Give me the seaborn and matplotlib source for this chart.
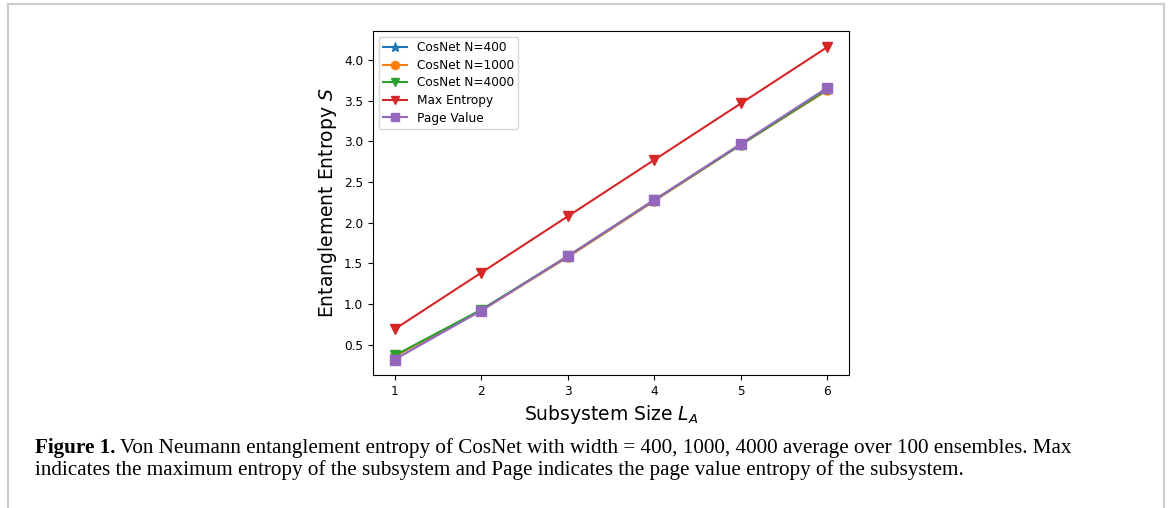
import matplotlib
matplotlib.use("Agg")
import matplotlib.pyplot as plt
from matplotlib.lines import Line2D
import seaborn as sns
import pandas as pd

subsystem_size = [1, 2, 3, 4, 5, 6]
cosnet_400 = [0.36, 0.93, 1.58, 2.27, 2.96, 3.63]
cosnet_1000 = [0.36, 0.92, 1.58, 2.27, 2.96, 3.63]
cosnet_4000 = [0.37, 0.93, 1.59, 2.28, 2.96, 3.64]
max_entropy = [0.693, 1.386, 2.079, 2.773, 3.466, 4.159]
page_value = [0.32, 0.92, 1.59, 2.28, 2.97, 3.66]

series_names = ["CosNet N=400", "CosNet N=1000", "CosNet N=4000", "Max Entropy", "Page Value"]
series_values = [cosnet_400, cosnet_1000, cosnet_4000, max_entropy, page_value]
markers = ["*", "o", "v", "v", "s"]
colors = ["#1f77b4", "#ff7f0e", "#2ca02c", "#d62728", "#9467bd"]

caption_bold = "Figure 1."
caption_line1 = " Von Neumann entanglement entropy of CosNet with width = 400, 1000, 4000 average over 100 ensembles. Max"
caption_line2 = "indicates the maximum entropy of the subsystem and Page indicates the page value entropy of the subsystem."

fig = plt.figure(figsize=(11.7, 5.08), dpi=100)
ax = fig.add_axes([373 / 1170, 1 - 375 / 508, (849 - 373) / 1170, (375 - 31) / 508])

for name, vals, mk, col in zip(series_names, series_values, markers, colors):
    df = pd.DataFrame({"L": subsystem_size, "S": vals})
    sns.lineplot(data=df, x="L", y="S", ax=ax, marker=mk, color=col, label=name,
                 markersize=7.5 if mk == "*" else 6.5, mec=col, mew=1, linewidth=1.5)

ax.set_xticks(subsystem_size)
ax.set_yticks([0.5, 1.0, 1.5, 2.0, 2.5, 3.0, 3.5, 4.0])
ax.set_xlim(0.75, 6.25)
ax.set_ylim(0.13, 4.356)
ax.tick_params(labelsize=8.7, length=3.5)
ax.set_xlabel("Subsystem Size $L_A$", fontsize=13.5)
ax.set_ylabel("Entanglement Entropy $S$", fontsize=13.5)
leg = ax.legend(loc="upper left", fontsize=8.7, frameon=True, labelspacing=0.38,
                borderpad=0.35, markerscale=0.9)
leg.get_frame().set_edgecolor("#cccccc")

# border of the page region
gray = "#cdcdcd"
fig.add_artist(Line2D([7.5 / 1170, 1164 / 1170], [1 - 3.5 / 508, 1 - 3.5 / 508], color=gray, lw=1.6, transform=fig.transFigure))
fig.add_artist(Line2D([7.5 / 1170, 7.5 / 1170], [0, 1 - 3.5 / 508], color=gray, lw=1.6, transform=fig.transFigure))
fig.add_artist(Line2D([1164 / 1170, 1164 / 1170], [0, 1 - 3.5 / 508], color=gray, lw=1.6, transform=fig.transFigure))

serif = ["Liberation Serif", "DejaVu Serif"]
x0 = 35 / 1170
t1 = fig.text(x0, 1 - 453 / 508, caption_bold, fontsize=15.2, fontweight="bold", family=serif, va="baseline")
fig.canvas.draw()
bb = t1.get_window_extent(renderer=fig.canvas.get_renderer())
fig.text(bb.x1 / 1170, 1 - 453 / 508, caption_line1, fontsize=15.2, family=serif, va="baseline")
fig.text(x0, 1 - 475 / 508, caption_line2, fontsize=15.2, family=serif, va="baseline")

fig.savefig("out.png", dpi=100)
